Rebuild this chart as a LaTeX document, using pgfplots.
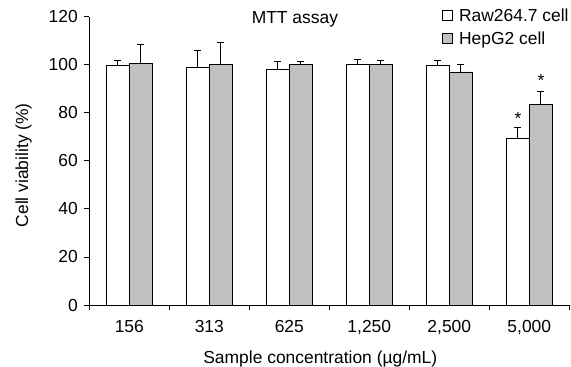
\documentclass[border=0pt]{standalone}
\usepackage{pgfplots}
\pgfplotsset{compat=1.18}
\usepackage{fontspec}
\setmainfont{Liberation Sans}
\definecolor{barg}{RGB}{192,192,192}
\newcommand{\fs}{\fontsize{17.5}{20}\selectfont}
\pgfplotstableread{
x raw rawerr hep heperr
0 99.7 2.2 100.7 7.9
1 98.9 6.9 100.3 8.8
2 98.1 3.3 100.0 1.5
3 100.0 2.3 100.0 1.9
4 99.7 2.3 97.0 3.1
5 69.2 4.6 83.4 5.5
}\datatable
\begin{document}
\begin{tikzpicture}[font=\fs]
\path[use as bounding box] (-89.3bp,-62bp) rectangle (481.7bp,305bp);
\begin{axis}[
  at={(0,0)}, anchor=south west,
  scale only axis, width=480bp, height=288.3bp,
  xmin=-0.5, xmax=5.5, ymin=0, ymax=120,
  axis x line*=bottom, axis y line*=left,
  axis line style={black, line width=0.8bp},
  ybar=0pt, bar width=23bp,
  ytick={0,20,...,120},
  xtick={0,...,5},
  xticklabels={156,313,625,{1,250},{2,500},{5,000}},
  major x tick style={draw=none},
  minor xtick={-0.5,0.5,...,5.5},
  tick align=outside,
  major tick length=5bp, minor tick length=5bp,
  tick style={black, line width=0.8bp},
  minor x tick style={black, line width=0.8bp},
  yticklabel style={font=\fs, xshift=-3bp},
  xticklabel style={font=\fs, yshift=-7bp},
  /pgf/number format/assume math mode=true,
  ylabel={Cell viability (\%)},
  xlabel={Sample concentration (µg/mL)},
  label style={font=\fs},
  ylabel style={at={(axis description cs:0,0.485)}, anchor=south, yshift=54bp},
  xlabel style={at={(axis description cs:0.5,0)}, anchor=north, yshift=-42bp, xshift=-9bp},
  legend style={at={(rel axis cs:0.7354,1.036)}, anchor=north west, draw=none, fill=none,
     font=\fs, inner sep=0pt, row sep=5bp,
     /tikz/every odd column/.append style={column sep=4bp}},
  legend cell align=left,
  legend image code/.code={\draw[#1, line width=0.6bp] (0bp,-5bp) rectangle (10bp,5bp);},
  error bars/y dir=plus, error bars/y explicit,
  error bars/error bar style={black, line width=0.8bp},
  error bars/error mark options={rotate=90, mark size=3.5bp, line width=0.8bp, black},
  clip=false,
]
\addplot[draw=black, fill=white, line width=0.8bp] table[x=x, y=raw, y error=rawerr] {\datatable};
\addplot[draw=black, fill=barg, line width=0.8bp] table[x=x, y=hep, y error=heperr] {\datatable};
\legend{Raw264.7 cell, HepG2 cell}
\node[font=\fs] at (axis cs:2.07,119.0) {MTT assay};
\node[font=\fs] at (axis cs:4.86,77.5) {*};
\node[font=\fs] at (axis cs:5.145,93.3) {*};
\end{axis}
\end{tikzpicture}
\end{document}
